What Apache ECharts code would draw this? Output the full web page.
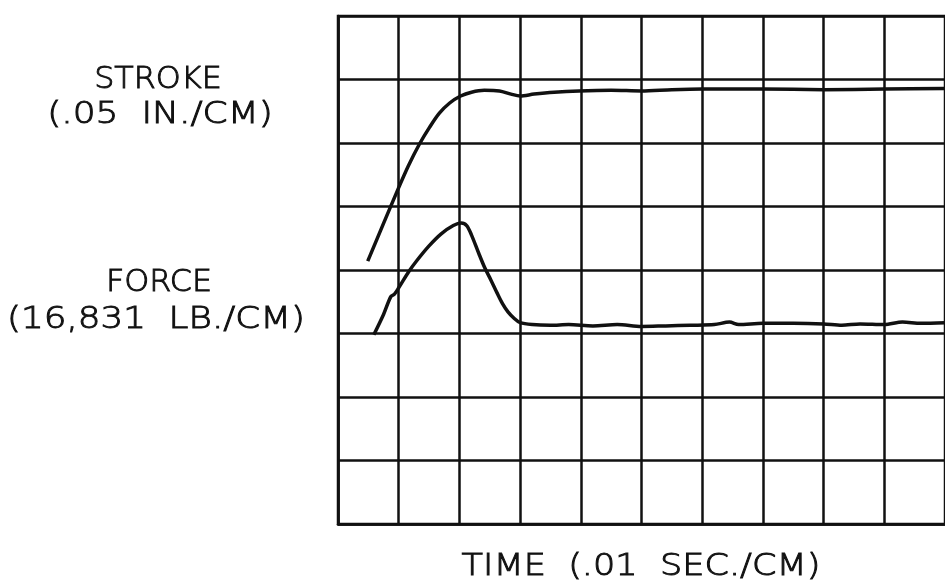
<!DOCTYPE html>
<html>
<head>
<meta charset="utf-8">
<script src="https://cdn.jsdelivr.net/npm/echarts@6/dist/echarts.min.js"></script>
<style>
html,body{margin:0;padding:0;background:#fff;}
#chart{width:945px;height:584px;}
</style>
</head>
<body>
<div id="chart"></div>
<script>
// Time in cm (0.01 s per cm), values in cm of chart
var strokeX = [0.49,0.74,0.97,1.16,1.34,1.51,1.67,1.84,2.02,2.2,2.41,2.66,2.85,3.0,3.23,3.56,3.97,4.5,5.0,5.5,6.0,6.5,7.0,8.0,9.0,10.0];
var strokeY = [4.14,4.71,5.23,5.64,5.98,6.25,6.47,6.63,6.74,6.8,6.83,6.82,6.77,6.74,6.77,6.8,6.82,6.83,6.82,6.84,6.85,6.85,6.85,6.84,6.85,6.86];
var forceX = [0.59,0.75,0.87,0.93,1.0,1.17,1.3,1.5,1.7,1.9,2.03,2.12,2.2,2.32,2.42,2.52,2.62,2.71,2.8,2.9,3.0,3.2,3.5,3.8,4.2,4.6,5.0,5.4,5.8,6.2,6.45,6.6,7.0,7.5,8.0,8.3,8.6,9.0,9.3,9.6,10.0];
var forceY = [2.98,3.3,3.58,3.62,3.72,3.98,4.15,4.38,4.57,4.7,4.74,4.7,4.55,4.26,4.03,3.84,3.64,3.47,3.34,3.24,3.17,3.14,3.13,3.14,3.12,3.14,3.11,3.12,3.13,3.14,3.18,3.14,3.16,3.16,3.15,3.13,3.15,3.14,3.18,3.16,3.17];
var strokeLabel = ["STROKE", "(.05  IN./CM)"];
var forceLabel = ["FORCE", "(16,831  LB./CM)"];
var timeLabel = "TIME  (.01  SEC./CM)";

function pairs(xs, ys){ return xs.map(function(x,i){ return [x, ys[i]]; }); }

var chart = echarts.init(document.getElementById('chart'), null, {renderer:'canvas'});
var axisCommon = {
  axisLabel:{show:false}, axisTick:{show:false},
  axisLine:{show:true, lineStyle:{color:'#111', width:2.5}},
  splitLine:{show:true, lineStyle:{color:'#111', width:2.5}}
};
var font = '"DejaVu Sans", sans-serif';
function txt(str, cx, cy, sx){
  return {type:'text', x:cx, y:cy, scaleX:sx, scaleY:1,
    style:{text:str, font:'200 30px ' + font, fill:'#111', stroke:'#111', lineWidth:0.9,
      align:'center', verticalAlign:'middle'}};
}
chart.setOption({
  animation:false,
  backgroundColor:'#fff',
  grid:{left:338, top:16, width:611, height:508, show:true, borderColor:'#111', borderWidth:2.5},
  xAxis:Object.assign({type:'value', min:0, max:10, interval:1}, axisCommon),
  yAxis:Object.assign({type:'value', min:0, max:8, interval:1}, axisCommon),
  series:[
    {type:'line', data:pairs(strokeX, strokeY), smooth:0.3, showSymbol:false, lineStyle:{color:'#111', width:3.5}},
    {type:'line', data:pairs(forceX, forceY), smooth:0.3, showSymbol:false, lineStyle:{color:'#111', width:3.5}}
  ],
  graphic:[
    txt(strokeLabel[0], 158, 80, 1.06),
    txt(strokeLabel[1], 160, 115, 1.2),
    txt(forceLabel[0], 159, 283, 1.06),
    txt(forceLabel[1], 156, 320, 1.19),
    txt(timeLabel, 641, 567, 1.17)
  ]
});
</script>
</body>
</html>
